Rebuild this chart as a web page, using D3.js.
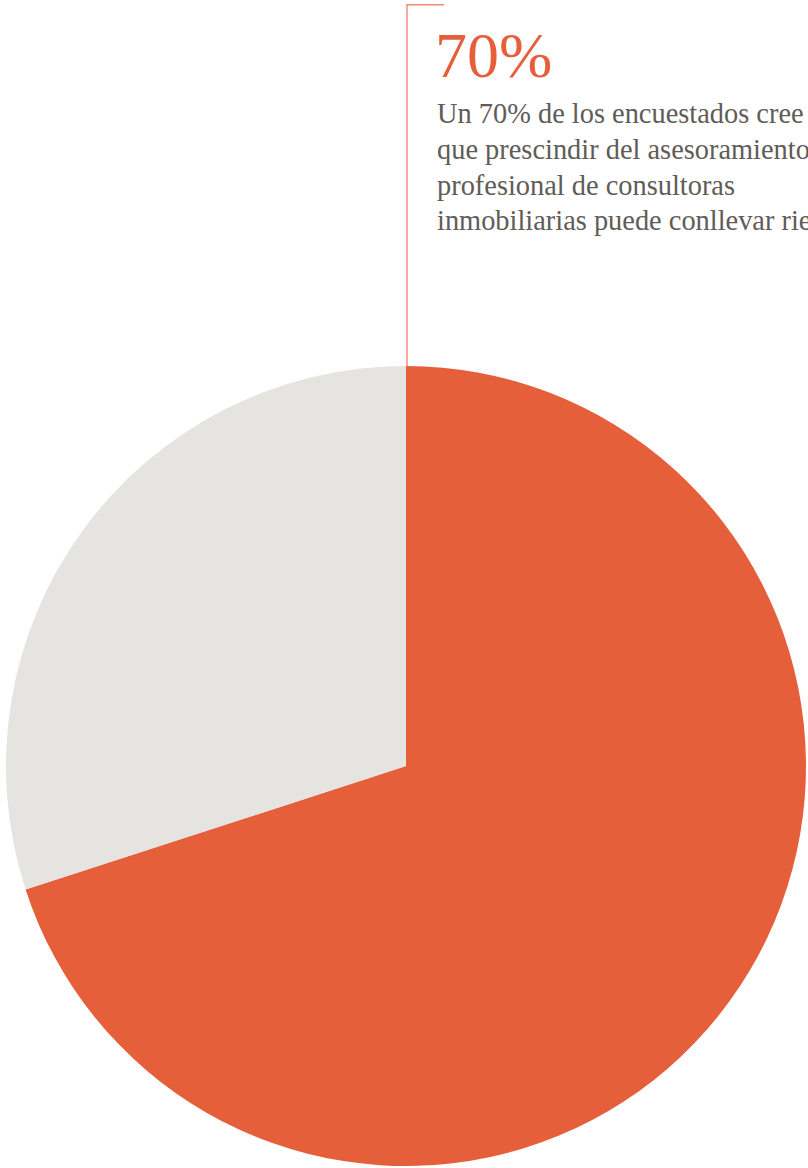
<!DOCTYPE html>
<html>
<head>
<meta charset="utf-8">
<script src="https://cdn.jsdelivr.net/npm/d3@7"></script>
<style>
  html, body { margin: 0; padding: 0; background: #fff; }
  svg { display: block; }
</style>
</head>
<body>
<div id="chart"></div>
<script>
// survey answer split
var categories = ["Cree que conlleva riesgos", "Resto"];
var values = [70, 30];
var colors = ["#e65f3b", "#e6e4e0"];

var headline = "70%";
var noteLines = [
    "Un 70% de los encuestados cree",
    "que prescindir del asesoramiento",
    "profesional de consultoras",
    "inmobiliarias puede conllevar riesgos."
];

var svgWidth = 808;
var svgHeight = 1168;

var svg = d3.select("#chart")
    .append("svg")
    .attr("width", svgWidth)
    .attr("height", svgHeight);

var cx = 406, cy = 766, radius = 400;

var pie = d3.pie().sort(null).value(d => d);
var arc = d3.arc().innerRadius(0).outerRadius(radius);

var pieGroup = svg.append("g")
    .attr("transform", `translate(${cx}, ${cy})`);

pieGroup.selectAll("path")
    .data(pie(values))
    .enter()
    .append("path")
    .attr("d", arc)
    .attr("fill", (d, i) => colors[i]);

// leader line from the top of the orange slice
var startAngle = pie(values)[0].startAngle;
var lx = cx + radius * Math.sin(startAngle) + 1;
var ly = cy - radius * Math.cos(startAngle);

svg.append("path")
    .attr("d", `M${lx},${ly} L${lx},4.7 L444,4.7`)
    .attr("fill", "none")
    .attr("stroke", "#ee8b70")
    .attr("stroke-width", 1.4);

// annotation
svg.append("text")
    .attr("x", 435)
    .attr("y", 76.5)
    .attr("font-family", "'Liberation Serif', 'DejaVu Serif', serif")
    .attr("font-size", 64)
    .attr("fill", colors[0])
    .text(headline);

svg.append("g")
    .selectAll("text")
    .data(noteLines)
    .enter()
    .append("text")
    .attr("x", 437)
    .attr("y", (d, i) => 123 + i * 35.8)
    .attr("font-family", "'Liberation Serif', 'DejaVu Serif', serif")
    .attr("font-size", 28.4)
    .attr("fill", "#605c58")
    .text(d => d);
</script>
</body>
</html>
